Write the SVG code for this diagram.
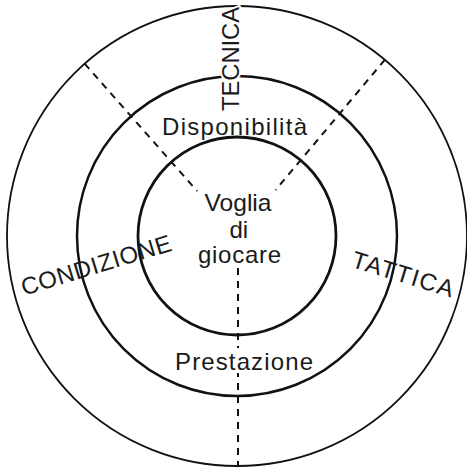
<svg xmlns="http://www.w3.org/2000/svg" width="467" height="470" viewBox="0 0 467 470">
  <style>
    .ring { fill: none; stroke: #111; }
    .dash { fill: none; stroke: #111; stroke-width: 2; stroke-dasharray: 7 6; }
    .lbl { font-family: "Liberation Sans", Arial, sans-serif; font-size: 24px; fill: #1a1a1a; text-anchor: middle; }
    .halo { stroke: #fff; stroke-width: 4; paint-order: stroke; stroke-linejoin: round; }
  </style>
  <rect width="467" height="470" fill="#fff"/>
  <g id="ring-outer">
    <circle class="ring" cx="237" cy="236" r="230" stroke-width="1.8"/>
  </g>
  <g id="ring-middle">
    <circle class="ring" cx="237" cy="236" r="160" stroke-width="2.5"/>
  </g>
  <g id="ring-inner">
    <circle class="ring" cx="237" cy="236" r="99" stroke-width="2.8"/>
  </g>
  <g id="connectors">
    <line class="dash" x1="84.6" y1="63.7" x2="197.2" y2="191.1"/>
    <line class="dash" x1="384.8" y1="59.8" x2="275.6" y2="190"/>
    <line class="dash" x1="238" y1="268" x2="238" y2="348"/>
    <line class="dash" x1="238" y1="373" x2="238" y2="466" stroke-dashoffset="3"/>
  </g>
  <g id="label-tecnica">
    <text class="lbl halo" transform="translate(238.5,59) rotate(-90)" x="0" y="0" textLength="104" lengthAdjust="spacingAndGlyphs">TECNICA</text>
  </g>
  <g id="label-disponibilita">
    <text class="lbl" x="234.5" y="135" textLength="145" lengthAdjust="spacing">Disponibilità</text>
  </g>
  <g id="label-voglia">
    <text class="lbl" x="238" y="211" textLength="67" lengthAdjust="spacingAndGlyphs">Voglia</text>
    <text class="lbl" x="238.8" y="238">di</text>
    <text class="lbl" x="239.5" y="263" textLength="83" lengthAdjust="spacing">giocare</text>
  </g>
  <g id="label-condizione">
    <text class="lbl" transform="translate(98.5,273) rotate(-17)" x="0" y="0" textLength="156" lengthAdjust="spacing">CONDIZIONE</text>
  </g>
  <g id="label-tattica">
    <text class="lbl" transform="translate(400.5,282) rotate(17)" x="0" y="0" textLength="105" lengthAdjust="spacing">TATTICA</text>
  </g>
  <g id="label-prestazione">
    <text class="lbl" x="244" y="370" textLength="138" lengthAdjust="spacing">Prestazione</text>
  </g>
</svg>
